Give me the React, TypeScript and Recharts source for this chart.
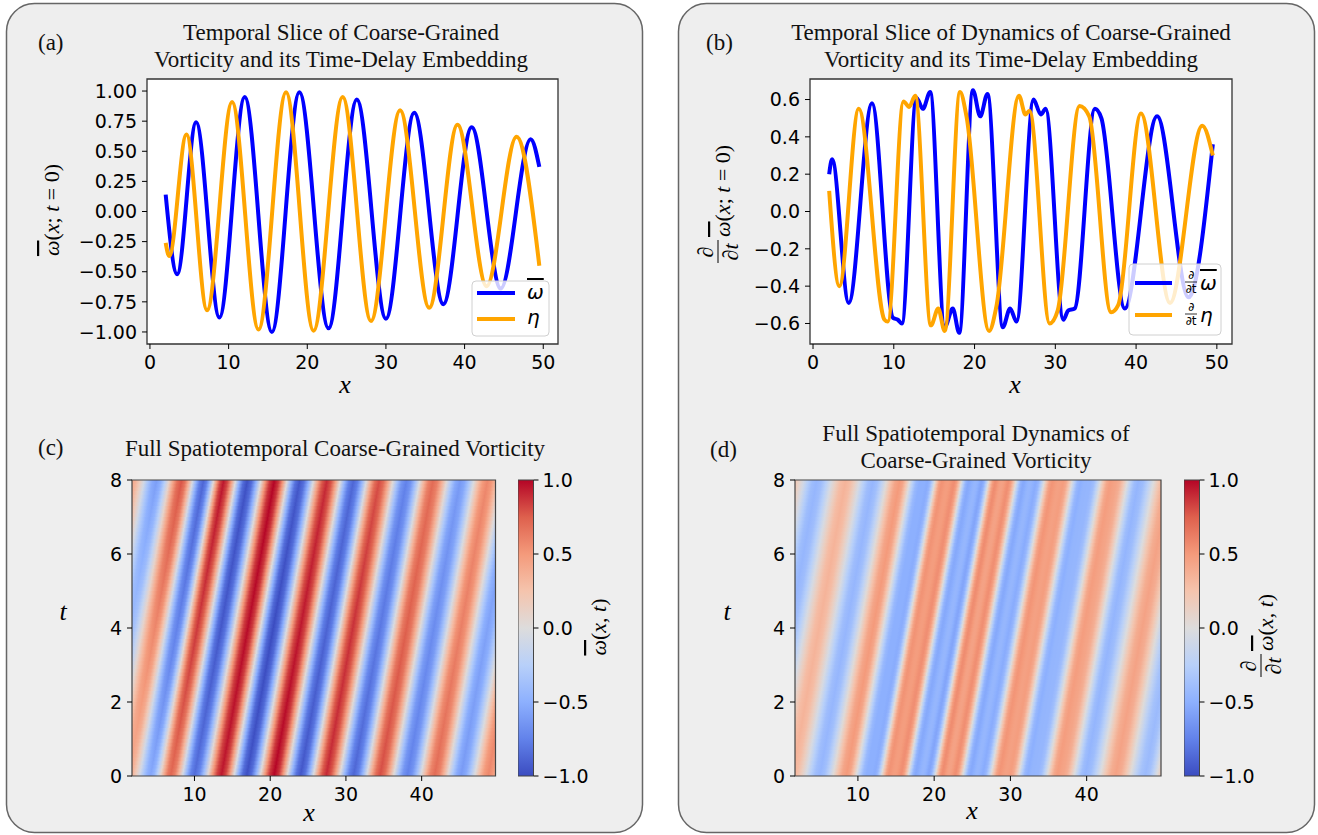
import React from "react";
import { LineChart, Line, XAxis, YAxis, CartesianGrid, ComposedChart, ReferenceArea } from "recharts";

// (a) coarse-grained vorticity and its delay embedding at t = 0 (extrema)
const omegaX = [2.0, 3.46, 5.87, 8.83, 12.05, 15.5, 19.0, 22.7, 26.3, 30.0, 33.6, 37.3, 40.9, 44.6, 48.4, 49.5];
const omegaV = [0.14, -0.52, 0.74, -0.88, 0.95, -1.0, 0.99, -0.97, 0.93, -0.89, 0.82, -0.77, 0.7, -0.64, 0.6, 0.37];
const etaX = [2.0, 2.45, 4.64, 7.26, 10.44, 13.8, 17.3, 20.8, 24.5, 28.1, 31.8, 35.5, 39.1, 42.8, 46.6, 49.5];
const etaV = [-0.26, -0.37, 0.64, -0.82, 0.91, -0.98, 0.99, -0.99, 0.95, -0.91, 0.84, -0.8, 0.72, -0.62, 0.62, -0.45];

// (b) time derivatives at t = 0
const dOmegaX = [2.0, 2.36, 4.42, 7.3, 9.9, 10.5, 11.0, 12.8, 13.6, 14.5, 16.3, 17.3, 18.1, 19.8, 20.7, 21.6, 23.5, 24.4, 25.2, 27.3, 28.2, 28.8, 31.0, 31.6, 32.4, 34.9, 35.7, 38.6, 42.6, 46.5, 49.5];
const dOmegaV = [0.2, 0.28, -0.49, 0.58, -0.57, -0.58, -0.6, 0.61, 0.55, 0.64, -0.62, -0.52, -0.65, 0.65, 0.51, 0.63, -0.62, -0.52, -0.59, 0.6, 0.52, 0.55, -0.58, -0.53, -0.52, 0.55, 0.5, -0.52, 0.51, -0.46, 0.36];
const dEtaX = [2.0, 3.26, 5.66, 8.85, 9.26, 11.2, 11.9, 12.65, 14.6, 15.5, 16.3, 18.2, 19.0, 21.8, 22.7, 25.5, 26.3, 26.8, 29.3, 30.3, 33.0, 34.2, 36.9, 37.8, 40.6, 44.2, 48.2, 49.5];
const dEtaV = [0.11, -0.4, 0.55, -0.58, -0.59, 0.59, 0.56, 0.62, -0.61, -0.52, -0.64, 0.64, 0.51, -0.64, -0.51, 0.62, 0.52, 0.54, -0.6, -0.53, 0.565, 0.51, -0.54, -0.5, 0.525, -0.49, 0.46, 0.3];

// (c) stripe extrema along x on the bottom row (t = 0) of the vorticity field
const vortStripeX = [-5.3, -2.0, 1.3, 4.2, 6.86, 9.99, 13.55, 16.9, 20.5, 24.0, 27.4, 31.0, 34.5, 38.1, 41.7, 45.2, 48.8, 52.2];
const vortStripeV = [0.35, -0.4, 0.4, -0.55, 0.72, -0.85, 0.95, -0.98, 1.0, -0.95, 0.9, -0.88, 0.8, -0.75, 0.7, -0.62, 0.58, -0.55];
// (d) same for the dynamics field
const dynStripeX = [-5.8, -2.4, 1.4, 5.0, 8.5, 11.1, 11.7, 12.2, 14.0, 14.8, 15.7, 17.5, 18.5, 19.3, 21.0, 21.9, 22.8, 24.7, 25.6, 26.4, 28.5, 29.4, 30.0, 32.2, 32.8, 33.6, 36.1, 36.9, 39.8, 43.8, 47.7, 50.7];
const dynStripeV = [0.28, -0.45, 0.35, -0.45, 0.5, -0.5, -0.5, -0.52, 0.53, 0.48, 0.55, -0.54, -0.45, -0.56, 0.56, 0.45, 0.55, -0.54, -0.45, -0.52, 0.52, 0.46, 0.48, -0.5, -0.46, -0.45, 0.48, 0.44, -0.46, 0.45, -0.42, 0.38];
const stripeDrift = 7.0; // how far the stripes move right between t = 0 and t = 8

const lineTicksX = [0, 10, 20, 30, 40, 50];
const omegaTicks = [-1, -0.75, -0.5, -0.25, 0, 0.25, 0.5, 0.75, 1];
const dynTicks = [-0.6, -0.4, -0.2, 0, 0.2, 0.4, 0.6];
const heatTicksX = [10, 20, 30, 40];
const heatTicksT = [0, 2, 4, 6, 8];
const cbarTicks = [-1, -0.5, 0, 0.5, 1];

const toPoints = (xs: number[], vs: number[]) => xs.map((x, i) => ({ x, v: vs[i] }));

// coolwarm colormap anchors
const cw: [number, number, number][] = [
  [59, 76, 192], [98, 130, 234], [141, 176, 254], [184, 208, 249], [221, 220, 220],
  [245, 196, 173], [244, 154, 123], [222, 96, 77], [180, 4, 38],
];
function coolwarm(v: number) {
  const u = Math.min(1, Math.max(0, (v + 1) / 2)) * (cw.length - 1);
  const i = Math.min(cw.length - 2, Math.floor(u));
  const f = u - i;
  const c = cw[i].map((a, k) => Math.round(a + (cw[i + 1][k] - a) * f));
  return `rgb(${c[0]},${c[1]},${c[2]})`;
}

const HEAT_X: [number, number] = [1.75, 49.75];
const HEAT_ROWS = 80;
const tickStyle = { fontSize: 19, fill: "#000", fontFamily: "DejaVu Sans" };
const fmt = (d: number) => (v: number) => v.toFixed(d).replace("-", "\u2212");

function envAt(xs: number[], vs: number[], x: number) {
  if (x <= xs[0]) return Math.abs(vs[0]);
  for (let k = 0; k < xs.length - 1; k++) {
    if (x <= xs[k + 1]) {
      const f = (x - xs[k]) / (xs[k + 1] - xs[k]);
      return Math.abs(vs[k]) + (Math.abs(vs[k + 1]) - Math.abs(vs[k])) * f;
    }
  }
  return Math.abs(vs[vs.length - 1]);
}

function buildRows(xs: number[], vs: number[], envelope: boolean) {
  const rows = [];
  for (let i = 0; i < HEAT_ROWS; i++) {
    const t0 = (i * 8) / HEAT_ROWS;
    const t1 = ((i + 1) * 8) / HEAT_ROWS;
    const shift = (stripeDrift * (t0 + t1)) / 2 / 8;
    const vals = envelope ? xs.map((x, k) => Math.sign(vs[k]) * envAt(xs, vs, x + shift)) : vs;
    rows.push({ t0, t1, shift, vals });
  }
  return rows;
}

function gradientStops(xs: number[], vals: number[]) {
  const out: { o: number; c: string }[] = [];
  const span = xs[xs.length - 1] - xs[0];
  const sub = 6;
  for (let k = 0; k < xs.length - 1; k++) {
    for (let j = 0; j < sub; j++) {
      const u = j / sub;
      const w = (1 - Math.cos(Math.PI * u)) / 2;
      const x = xs[k] + u * (xs[k + 1] - xs[k]);
      out.push({ o: (x - xs[0]) / span, c: coolwarm(vals[k] + w * (vals[k + 1] - vals[k])) });
    }
  }
  out.push({ o: 1, c: coolwarm(vals[vals.length - 1]) });
  return out;
}

function LinePanel(props: any) {
  const { left, top, width, yWidth, yDomain, yTicks, digits, series } = props;
  return (
    <div style={{ position: "absolute", left, top }}>
      <LineChart width={width} height={330} margin={{ top: 9, right: 10, bottom: 0, left: 0 }}>
        <CartesianGrid horizontal={false} vertical={false} fill="#fff" />
        <XAxis type="number" dataKey="x" domain={[-0.375, 51.875]} allowDataOverflow ticks={lineTicksX} interval={0}
          height={56} tick={tickStyle} tickSize={5} tickMargin={7} axisLine={false} tickLine={{ stroke: "#000" }} />
        <YAxis type="number" dataKey="v" domain={yDomain} allowDataOverflow ticks={yTicks} interval={0} width={yWidth}
          tick={tickStyle} tickSize={5} tickMargin={5} axisLine={false} tickLine={{ stroke: "#000" }} tickFormatter={fmt(digits)} />
        {series.map((s: any) => (
          <Line key={s.name} data={s.data} dataKey="v" type="monotone" stroke={s.color} strokeWidth={4}
            dot={false} activeDot={false} isAnimationActive={false} />
        ))}
        <ReferenceArea x1={-0.375} x2={51.875} y1={yDomain[0]} y2={yDomain[1]} fill="none" fillOpacity={0} stroke="#333" strokeWidth={1.3} />
      </LineChart>
    </div>
  );
}

function HeatPanel(props: any) {
  const { left, id, xs, vs, envelope } = props;
  const rows = buildRows(xs, vs, envelope);
  const n = xs.length;
  return (
    <div style={{ position: "absolute", left, top: 470 }}>
      <svg width={0} height={0} style={{ position: "absolute" }}>
        <defs>
          {rows.map((r, i) => (
            <linearGradient key={i} id={`${id}-${i}`} x1={(xs[0] + r.shift - HEAT_X[0]) / 48} x2={(xs[n - 1] + r.shift - HEAT_X[0]) / 48} y1={0} y2={0}>
              {gradientStops(xs, r.vals).map((s, j) => <stop key={j} offset={s.o} stopColor={s.c} />)}
            </linearGradient>
          ))}
        </defs>
      </svg>
      <ComposedChart width={props.width} height={346} margin={{ top: 10, right: 5, bottom: 0, left: 0 }}>
        <XAxis type="number" dataKey="x" domain={HEAT_X} allowDataOverflow ticks={heatTicksX} interval={0}
          height={40} tick={tickStyle} tickSize={5} tickMargin={7} axisLine={false} tickLine={{ stroke: "#000" }} />
        <YAxis type="number" dataKey="t" domain={[0, 8]} allowDataOverflow ticks={heatTicksT} interval={0} width={92}
          tick={tickStyle} tickSize={5} tickMargin={5} axisLine={false} tickLine={{ stroke: "#000" }} />
        {rows.map((r, i) => (
          <ReferenceArea key={i} x1={HEAT_X[0]} x2={HEAT_X[1]} y1={r.t0} y2={Math.min(8, r.t1 + 0.03)}
            fill={`url(#${id}-${i})`} fillOpacity={1} stroke="none" />
        ))}
        <ReferenceArea x1={HEAT_X[0]} x2={HEAT_X[1]} y1={0} y2={8} fill="none" fillOpacity={0} stroke="#444" strokeWidth={1.2} />
      </ComposedChart>
    </div>
  );
}

function ColorBar(props: any) {
  const { left, id } = props;
  return (
    <div style={{ position: "absolute", left, top: 470 }}>
      <svg width={0} height={0} style={{ position: "absolute" }}>
        <defs>
          <linearGradient id={id} x1={0} y1={0} x2={0} y2={1}>
            {cw.map((_, k) => {
              const v = 1 - (2 * k) / (cw.length - 1);
              return <stop key={k} offset={k / (cw.length - 1)} stopColor={coolwarm(v)} />;
            })}
          </linearGradient>
        </defs>
      </svg>
      <ComposedChart width={85.5} height={346} margin={{ top: 10, right: 0, bottom: 0, left: 0 }}>
        <XAxis type="number" dataKey="x" domain={[0, 1]} allowDataOverflow height={40} tick={false} tickLine={false} axisLine={false} />
        <YAxis type="number" dataKey="v" orientation="right" domain={[-1, 1]} allowDataOverflow ticks={cbarTicks} interval={0} width={70}
          tick={tickStyle} tickSize={5} tickMargin={4} axisLine={false} tickLine={{ stroke: "#000" }} tickFormatter={fmt(1)} />
        <ReferenceArea x1={0} x2={1} y1={-1} y2={1} fill={`url(#${id})`} fillOpacity={1} stroke="#444" strokeWidth={1} />
      </ComposedChart>
    </div>
  );
}

const serif = "Liberation Serif";
const OmegaBar = ({ sans }: { sans?: boolean }) => (
  <tspan fontStyle="italic" fontFamily={sans ? "DejaVu Sans" : serif} style={{ textDecoration: "overline" }}>ω</tspan>
);

function DtLabel({ cx, cy, tail }: { cx: number; cy: number; tail: React.ReactNode }) {
  return (
    <g transform={`translate(${cx},${cy}) rotate(-90)`} fontFamily={serif} fontSize={22} fill="#000">
      <text x={-45} y={-12} textAnchor="middle" fontStyle="italic">∂</text>
      <line x1={-56} x2={-33} y1={-7} y2={-7} stroke="#000" strokeWidth={1} />
      <text x={-45} y={13} textAnchor="middle" fontStyle="italic">∂t</text>
      <text x={-30} y={5}>{tail}</text>
    </g>
  );
}

function Overlay() {
  const t = { fontFamily: serif, fontSize: 23, fill: "#111" };
  const lab = { fontFamily: serif, fontSize: 26, fontStyle: "italic" as const, fill: "#000" };
  return (
    <svg width={1318} height={835} style={{ position: "absolute", left: 0, top: 0, pointerEvents: "none" }}>
      <text x={341} y={39.5} textAnchor="middle" {...t}>Temporal Slice of Coarse-Grained</text>
      <text x={341} y={67} textAnchor="middle" {...t}>Vorticity and its Time-Delay Embedding</text>
      <text x={38} y={50} {...t}>(a)</text>
      <text x={1011} y={39.5} textAnchor="middle" {...t}>Temporal Slice of Dynamics of Coarse-Grained</text>
      <text x={1011} y={67} textAnchor="middle" {...t}>Vorticity and its Time-Delay Embedding</text>
      <text x={706} y={50} {...t}>(b)</text>
      <text x={335} y={456} textAnchor="middle" {...t}>Full Spatiotemporal Coarse-Grained Vorticity</text>
      <text x={38} y={455} {...t}>(c)</text>
      <text x={976} y={440.5} textAnchor="middle" {...t}>Full Spatiotemporal Dynamics of</text>
      <text x={976} y={468} textAnchor="middle" {...t}>Coarse-Grained Vorticity</text>
      <text x={710} y={457} {...t}>(d)</text>

      <text x={345} y={393} textAnchor="middle" {...lab}>x</text>
      <text x={1015} y={393} textAnchor="middle" {...lab}>x</text>
      <text x={309} y={821} textAnchor="middle" {...lab}>x</text>
      <text x={972} y={819} textAnchor="middle" {...lab}>x</text>
      <text x={63} y={620} textAnchor="middle" {...lab}>t</text>
      <text x={727} y={620} textAnchor="middle" {...lab}>t</text>

      <text transform="translate(59,210) rotate(-90)" textAnchor="middle" fontFamily={serif} fontSize={22}>
        <OmegaBar />(<tspan fontStyle="italic">x</tspan>; <tspan fontStyle="italic">t</tspan> = 0)
      </text>
      <DtLabel cx={725} cy={207} tail={<><OmegaBar />(<tspan fontStyle="italic">x</tspan>; <tspan fontStyle="italic">t</tspan> = 0)</>} />
      <text transform="translate(606,627) rotate(-90)" textAnchor="middle" fontFamily={serif} fontSize={22}>
        <OmegaBar />(<tspan fontStyle="italic">x</tspan>, <tspan fontStyle="italic">t</tspan>)
      </text>
      <DtLabel cx={1268} cy={621} tail={<><OmegaBar />(<tspan fontStyle="italic">x</tspan>, <tspan fontStyle="italic">t</tspan>)</>} />

      {/* legend (a) */}
      <rect x={472} y={281} width={77} height={55} rx={4} fill="#fff" fillOpacity={0.8} stroke="#d0d0d0" />
      <line x1={477} x2={515} y1={293} y2={293} stroke="#0000ff" strokeWidth={4} />
      <line x1={477} x2={515} y1={319} y2={319} stroke="#ffa500" strokeWidth={4} />
      <text x={527} y={299} fontSize={20} fontFamily="DejaVu Sans"><OmegaBar sans /></text>
      <text x={527} y={324} fontSize={20} fontFamily="DejaVu Sans" fontStyle="italic">η</text>

      {/* legend (b) */}
      <rect x={1129} y={264} width={92} height={71} rx={4} fill="#fff" fillOpacity={0.8} stroke="#d0d0d0" />
      <line x1={1135} x2={1172} y1={283} y2={283} stroke="#0000ff" strokeWidth={4} />
      <line x1={1135} x2={1172} y1={315} y2={315} stroke="#ffa500" strokeWidth={4} />
      {[283, 315].map((y, i) => (
        <g key={y} fontFamily="DejaVu Sans">
          <text x={1191} y={y - 4} fontSize={12} textAnchor="middle">∂</text>
          <line x1={1185} x2={1197} y1={y - 1} y2={y - 1} stroke="#000" strokeWidth={0.8} />
          <text x={1191} y={y + 10} fontSize={12} textAnchor="middle">∂t</text>
          <text x={1200} y={y + 7} fontSize={20}>{i === 0 ? <OmegaBar sans /> : <tspan fontStyle="italic">η</tspan>}</text>
        </g>
      ))}
    </svg>
  );
}

export default function App() {
  return (
    <div style={{ position: "absolute", left: 0, top: 0, width: 1318, height: 835, background: "#fff", overflow: "hidden" }}>
      <svg width={1318} height={835} style={{ position: "absolute", left: 0, top: 0 }}>
        <rect x={6.5} y={3.5} width={636} height={829} rx={28} fill="#eeeeee" stroke="#666" strokeWidth={1.5} />
        <rect x={678.5} y={3.5} width={636} height={829} rx={28} fill="#eeeeee" stroke="#666" strokeWidth={1.5} />
      </svg>
      <LinePanel left={60} top={70} width={508} yWidth={87} yDomain={[-1.1, 1.1]} yTicks={omegaTicks} digits={2}
        series={[
          { name: "omega", data: toPoints(omegaX, omegaV), color: "#0000ff" },
          { name: "eta", data: toPoints(etaX, etaV), color: "#ffa500" },
        ]} />
      <LinePanel left={720} top={70} width={522} yWidth={90} yDomain={[-0.71, 0.71]} yTicks={dynTicks} digits={1}
        series={[
          { name: "domega", data: toPoints(dOmegaX, dOmegaV), color: "#0000ff" },
          { name: "deta", data: toPoints(dEtaX, dEtaV), color: "#ffa500" },
        ]} />
      <HeatPanel left={40} width={460.5} id="vort" xs={vortStripeX} vs={vortStripeV} envelope />
      <ColorBar left={518} id="cbarC" />
      <HeatPanel left={703} width={463} id="dyn" xs={dynStripeX} vs={dynStripeV} envelope={false} />
      <ColorBar left={1183.5} id="cbarD" />
      <Overlay />
    </div>
  );
}
